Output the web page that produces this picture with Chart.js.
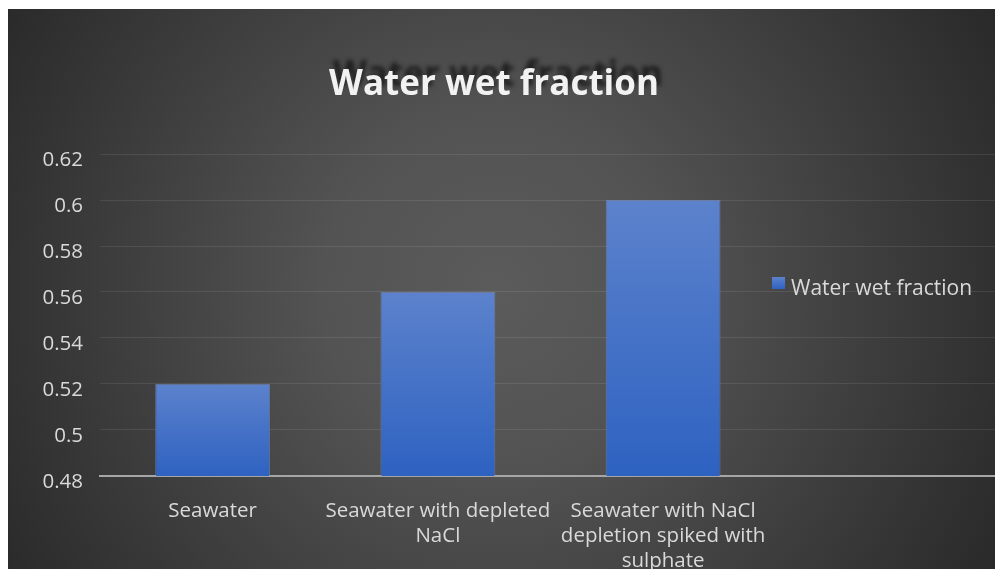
<!DOCTYPE html>
<html>
<head>
<meta charset="utf-8">
<script src="https://cdn.jsdelivr.net/npm/chart.js@4/dist/chart.umd.min.js"></script>
<style>
  html, body { margin: 0; padding: 0; background: #ffffff; overflow: hidden; width: 995px; height: 569px; }
  #wrap { position: absolute; left: 8px; top: 9px; width: 987px; height: 560px; overflow: hidden; }
  canvas { display: block; }
</style>
</head>
<body>
<div id="wrap"><canvas id="c" width="1000" height="560" style="width:1000px;height:560px"></canvas></div>
<script>
// Chart text
const chartTitle = 'Water wet fraction';
const seriesName = 'Water wet fraction';

// Categories (the last slot is an empty category)
const categories = [
  ['Seawater'],
  ['Seawater with depleted', 'NaCl'],
  ['Seawater with NaCl', 'depletion spiked with', 'sulphate'],
  ''
];

// Series values
const waterWetFraction = [0.52, 0.56, 0.60, null];

// Value axis ticks
const yTickValues = [0.48, 0.50, 0.52, 0.54, 0.56, 0.58, 0.60, 0.62];
const yTickLabels = ['0.48', '0.5', '0.52', '0.54', '0.56', '0.58', '0.6', '0.62'];

const FONT = '"Open Sans", "Noto Sans", sans-serif';

// Dark radial backdrop behind everything
const backdrop = {
  id: 'backdrop',
  beforeDraw(chart) {
    const { ctx, width, height } = chart;
    const g = ctx.createRadialGradient(487, 281, 0, 487, 281, 575);
    g.addColorStop(0, '#5b5b5b');
    g.addColorStop(0.3, '#535353');
    g.addColorStop(1, '#292929');
    ctx.save();
    ctx.fillStyle = g;
    ctx.fillRect(0, 0, width, height);
    ctx.restore();
  }
};

// Title with a soft offset shadow
const shadowTitle = {
  id: 'shadowTitle',
  afterDraw(chart) {
    const { ctx } = chart;
    ctx.save();
    ctx.font = 'bold 35px ' + FONT;
    ctx.textAlign = 'center';
    ctx.textBaseline = 'alphabetic';
    ctx.fillStyle = '#f2f2f2';
    ctx.shadowColor = 'rgba(0,0,0,0.6)';
    ctx.shadowOffsetX = 4;
    ctx.shadowOffsetY = -9;
    ctx.shadowBlur = 4;
    ctx.fillText(chartTitle, 486, 86);
    ctx.restore();
  }
};

// Legend entry sitting over the plot's right side
const overlayLegend = {
  id: 'overlayLegend',
  afterDraw(chart) {
    const { ctx } = chart;
    const ds = chart.data.datasets[0];
    ctx.save();
    const g = ctx.createLinearGradient(0, 268, 0, 280);
    g.addColorStop(0, '#5c82cc');
    g.addColorStop(1, '#2e62c1');
    ctx.fillStyle = g;
    ctx.fillRect(764, 268, 13, 12);
    ctx.font = '21px ' + FONT;
    ctx.fillStyle = '#d9d9d9';
    ctx.textAlign = 'left';
    ctx.textBaseline = 'alphabetic';
    ctx.fillText(ds.label, 783, 286);
    ctx.restore();
  }
};

function barFill(context) {
  const chart = context.chart;
  const area = chart.chartArea;
  if (!area || context.type !== 'data' || context.raw == null) return '#4472c4';
  const y = chart.scales.y;
  const top = y.getPixelForValue(context.raw);
  const bottom = y.getPixelForValue(y.min);
  const g = chart.ctx.createLinearGradient(0, top, 0, bottom);
  g.addColorStop(0, '#5c82cc');
  g.addColorStop(1, '#2e62c1');
  return g;
}

new Chart(document.getElementById('c'), {
  type: 'bar',
  data: {
    labels: categories,
    datasets: [{
      label: seriesName,
      data: waterWetFraction,
      backgroundColor: barFill,
      borderColor: 'rgba(120,150,220,0.55)',
      borderWidth: 1,
      categoryPercentage: 1,
      barPercentage: 0.51
    }]
  },
  options: {
    responsive: false,
    maintainAspectRatio: false,
    animation: false,
    devicePixelRatio: 1,
    layout: { padding: { top: 145, left: 0, right: 7, bottom: 0 } },
    plugins: {
      legend: { display: false },
      title: { display: false },
      tooltip: { enabled: false }
    },
    scales: {
      x: {
        offset: true,
        grid: { display: false, drawTicks: false },
        border: { display: true, color: '#a6a6a6', width: 2 },
        ticks: {
          color: '#d9d9d9',
          font: { family: FONT, size: 20.5, lineHeight: 1.22 },
          padding: 23,
          maxRotation: 0,
          minRotation: 0,
          autoSkip: false
        },
        afterFit(scale) { scale.height = 93; }
      },
      y: {
        min: 0.48,
        max: 0.62,
        grid: { color: 'rgba(255,255,255,0.09)', lineWidth: 1, drawTicks: false },
        border: { display: false },
        ticks: {
          color: '#d9d9d9',
          font: { family: FONT, size: 20.5 },
          padding: 17,
          labelOffset: 6,
          callback: (v, i) => yTickLabels[i]
        },
        afterBuildTicks(scale) { scale.ticks = yTickValues.map(v => ({ value: v })); },
        afterFit(scale) { scale.width = 92; }
      }
    }
  },
  plugins: [backdrop, shadowTitle, overlayLegend]
});
</script>
</body>
</html>
